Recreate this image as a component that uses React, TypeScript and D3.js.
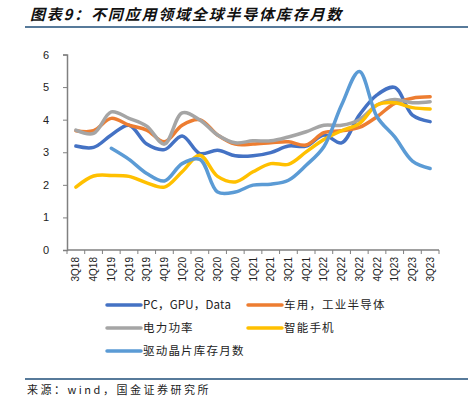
import { useEffect, useRef } from 'react';
import * as d3 from 'd3';

const quarters = [
  '3Q18', '4Q18', '1Q19', '2Q19', '3Q19', '4Q19', '1Q20', '2Q20', '3Q20', '4Q20',
  '1Q21', '2Q21', '3Q21', '4Q21', '1Q22', '2Q22', '3Q22', '4Q22', '1Q23', '2Q23', '3Q23',
];
const yTicks = [0, 1, 2, 3, 4, 5, 6];

const pcGpu = [3.19, 3.15, 3.53, 3.83, 3.25, 3.08, 3.5, 2.96, 3.06, 2.89, 2.89, 2.99, 3.19, 3.19, 3.53, 3.29, 4.14, 4.76, 4.99, 4.14, 3.94];
const auto = [3.66, 3.66, 4.04, 3.83, 3.68, 3.32, 3.83, 4.0, 3.53, 3.25, 3.25, 3.29, 3.32, 3.22, 3.6, 3.66, 3.76, 4.09, 4.5, 4.66, 4.7];
const power = [3.68, 3.58, 4.24, 4.04, 3.8, 3.25, 4.21, 3.99, 3.53, 3.29, 3.35, 3.35, 3.47, 3.63, 3.83, 3.83, 4.0, 4.45, 4.62, 4.52, 4.55];
const phone = [1.93, 2.27, 2.29, 2.26, 2.06, 1.93, 2.4, 2.91, 2.26, 2.09, 2.4, 2.65, 2.63, 3.01, 3.39, 3.66, 3.88, 4.45, 4.52, 4.37, 4.33];
const driver = [null, null, 3.12, 2.78, 2.35, 2.12, 2.65, 2.78, 1.78, 1.78, 1.99, 2.02, 2.14, 2.6, 3.17, 4.45, 5.48, 4.09, 3.47, 2.73, 2.5];

const series = [
  { name: 'PC，GPU，Data', values: pcGpu, color: '#4472C4' },
  { name: '车用，工业半导体', values: auto, color: '#ED7D31' },
  { name: '电力功率', values: power, color: '#A5A5A5' },
  { name: '智能手机', values: phone, color: '#FFC000' },
  { name: '驱动晶片库存月数', values: driver, color: '#5B9BD5' },
];

const W = 468;
const H = 397;
const font = '"Liberation Sans", Arial, "Noto Sans CJK SC", sans-serif';
const cjk = '"Noto Sans CJK SC", sans-serif';

export default function App() {
  const ref = useRef<SVGSVGElement | null>(null);

  useEffect(() => {
    const svg = d3.select(ref.current);
    svg.selectAll('*').remove();

    const left = 67;
    const right = 439;
    const top = 54.5;
    const bottom = 250;

    const x = d3.scaleBand<string>().domain(quarters).range([left, right]);
    const y = d3.scaleLinear().domain([0, 6]).range([bottom, top]);

    // title
    svg.append('text')
      .attr('x', 30)
      .attr('y', 20)
      .attr('font-family', cjk)
      .attr('font-size', 15)
      .attr('letter-spacing', 1.8)
      .attr('font-weight', 'bold')
      .attr('font-style', 'italic')
      .attr('fill', '#111')
      .text('图表9：不同应用领域全球半导体库存月数');
    svg.append('line')
      .attr('x1', 25).attr('x2', W)
      .attr('y1', 27).attr('y2', 27)
      .attr('stroke', '#1F4E79').attr('stroke-width', 1.5);

    // y axis
    const yAxis = svg.append('g')
      .attr('transform', `translate(${left},0)`)
      .call(d3.axisLeft(y).tickValues(yTicks).tickFormat(d3.format('d')).tickSize(4).tickPadding(14));
    yAxis.select('.domain').attr('stroke', '#808080').attr('stroke-width', 1.5);
    yAxis.selectAll('line').attr('stroke', '#808080');
    yAxis.selectAll('text').attr('font-family', font).attr('font-size', 11).attr('fill', '#222');

    // x axis
    const xAxis = svg.append('g').attr('transform', `translate(0,${bottom})`);
    xAxis.append('line')
      .attr('x1', left).attr('x2', right)
      .attr('y1', 0).attr('y2', 0)
      .attr('stroke', '#808080').attr('stroke-width', 1.5);
    xAxis.selectAll('line.tick')
      .data(quarters.concat(['end']))
      .join('line')
      .attr('class', 'tick')
      .attr('x1', (_, i) => left + i * x.step())
      .attr('x2', (_, i) => left + i * x.step())
      .attr('y1', 0).attr('y2', 4)
      .attr('stroke', '#808080');
    xAxis.selectAll('text')
      .data(quarters)
      .join('text')
      .attr('transform', d => `translate(${x(d)! + x.bandwidth() / 2 + 3.5},7) rotate(-90)`)
      .attr('text-anchor', 'end')
      .attr('font-family', font)
      .attr('font-size', 10)
      .attr('fill', '#222')
      .text(d => d);

    // lines
    const line = d3.line<number | null>()
      .defined(d => d != null)
      .x((_, i) => x(quarters[i])! + x.bandwidth() / 2)
      .y(d => y(d as number))
      .curve(d3.curveCatmullRom.alpha(0.5));

    series.forEach(s => {
      svg.append('path')
        .datum(s.values)
        .attr('fill', 'none')
        .attr('stroke', s.color)
        .attr('stroke-width', 3.5)
        .attr('stroke-linejoin', 'round')
        .attr('stroke-linecap', 'round')
        .attr('d', line);
    });

    // legend
    const legendPos = [
      [107, 305], [248, 305], [107, 328], [248, 328], [107, 351],
    ];
    series.forEach((s, i) => {
      const [lx, ly] = legendPos[i];
      svg.append('line')
        .attr('x1', lx).attr('x2', lx + 34)
        .attr('y1', ly).attr('y2', ly)
        .attr('stroke', s.color).attr('stroke-width', 3.5)
        .attr('stroke-linecap', 'round');
      svg.append('text')
        .attr('x', lx + 36)
        .attr('y', ly + 4)
        .attr('font-family', cjk)
        .attr('font-size', 11.5)
        .attr('letter-spacing', i === 0 ? 0.2 : 1.2)
        .attr('fill', '#222')
        .text(s.name);
    });

    // source
    svg.append('line')
      .attr('x1', 25).attr('x2', W)
      .attr('y1', 379).attr('y2', 379)
      .attr('stroke', '#1F4E79').attr('stroke-width', 1.5);
    svg.append('text')
      .attr('x', 27)
      .attr('y', 394)
      .attr('font-family', cjk)
      .attr('font-size', 11)
      .attr('letter-spacing', 2.5)
      .attr('fill', '#222')
      .text('来源：wind，国金证券研究所');
  }, []);

  return (
    <svg
      ref={ref}
      width={W}
      height={H}
      style={{ position: 'absolute', left: 0, top: 0, background: '#fff' }}
    />
  );
}
